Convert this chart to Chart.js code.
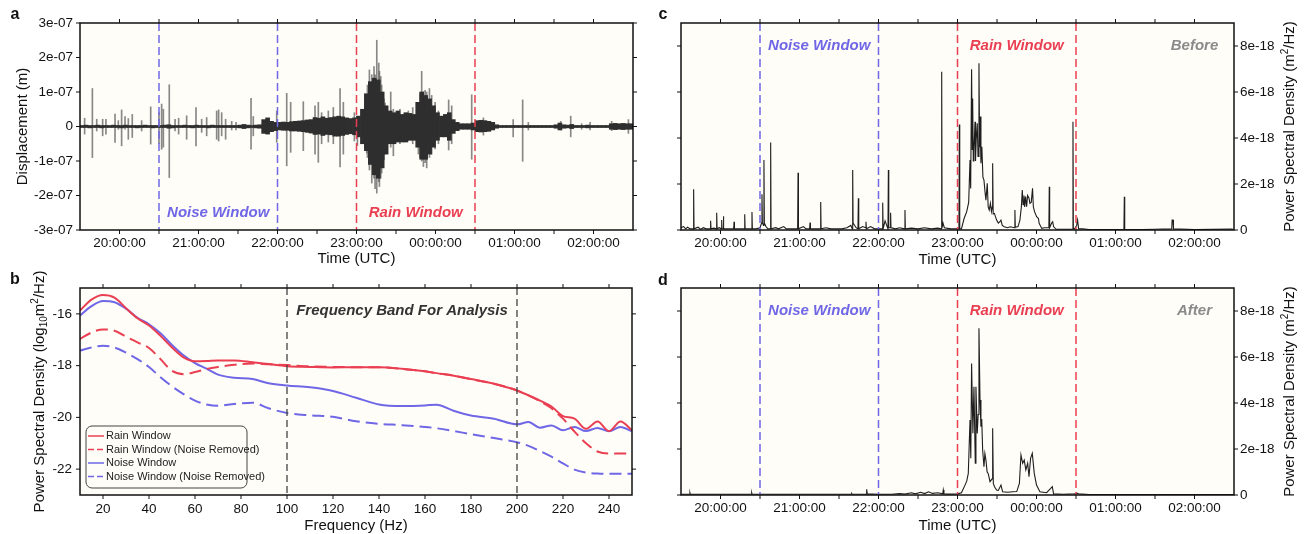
<!DOCTYPE html>
<html>
<head>
<meta charset="utf-8">
<script src="https://cdn.jsdelivr.net/npm/chart.js@4.4.1/dist/chart.umd.min.js"></script>
<style>
  body { margin: 0; background: #fff; width: 1309px; height: 534px; position: relative; overflow: hidden; }
  canvas { position: absolute; }
</style>
</head>
<body>
<canvas id="pa" style="left:0;top:0" width="655" height="270"></canvas>
<canvas id="pc" style="left:655px;top:0" width="654" height="270"></canvas>
<canvas id="pb" style="left:0;top:270px" width="655" height="264"></canvas>
<canvas id="pd" style="left:655px;top:270px" width="654" height="264"></canvas>
<script>
const BLUE = '#6f67e6', RED = '#ea3f52', GREY_TXT = '#8a8a8a', PLOT_BG = '#fffdf7', INK = '#111';
const FONT = "'Liberation Sans', Arial, Helvetica, sans-serif";

// time axis: minutes after 19:30 UTC
const hourMins = [30, 90, 150, 210, 270, 330, 390];
const hourLabels = ['20:00:00', '21:00:00', '22:00:00', '23:00:00', '00:00:00', '01:00:00', '02:00:00'];
const halfHourMins = [60, 120, 180, 240, 300, 360];
const noiseWin = [60, 150];
const rainWin = [210, 300];

// ---- panel a : displacement (units of 1e-07 m) ----
const aTickVals = [-3e-7, -2e-7, -1e-7, 0, 1e-7, 2e-7, 3e-7];
const aTickLabels = ['-3e-07', '-2e-07', '-1e-07', '0', '1e-07', '2e-07', '3e-07'];
const aBinWidth = 3; // minutes per envelope bin
const aUpper = [
  .03, .04, .03, .03, .04, .03, .03, .03, .04, .03,
  .03, .04, .03, .03, .03, .03, .04, .03, .03, .03,
  .03, .04, .05, .03, .03, .03, .04, .03, .03, .04,
  .03, .03, .03, .04, .03, .03, .03, .03, .03, .03,
  .04, .06, .04, .03, .04, .05, .2, .25, .15, .12,
  .12, .13, .12, .14, .15, .16, .17, .19, .2, .26,
  .24, .28, .24, .26, .28, .3, .28, .25, .23, .25,
  .3, .5, .95, 1.3, 1.4, 1.35, 1.0, .6, .45, .4,
  .45, .35, .4, .38, .35, .7, 1.0, .9, .8, .6,
  .4, .3, .35, .4, .2, .12, .08, .08, .08, .1,
  .17, .18, .17, .15, .12, .05, .03, .03, .03, .03,
  .03, .03, .03, .03, .03, .03, .03, .03, .03, .03,
  .05, .1, .05, .04, .06, .03, .03, .03, .04, .03,
  .03, .03, .03, .03, .08, .09, .08, .09, .08, .08
];
const aLower = [
  .03, .03, .04, .03, .03, .04, .03, .03, .03, .03,
  .04, .03, .03, .03, .04, .03, .03, .03, .04, .03,
  .03, .03, .05, .04, .03, .03, .03, .03, .04, .03,
  .03, .03, .04, .03, .03, .03, .03, .03, .03, .03,
  .04, .06, .04, .03, .04, .05, .2, .22, .15, .12,
  .1, .11, .11, .13, .13, .14, .15, .17, .19, .23,
  .22, .26, .23, .24, .28, .28, .26, .23, .21, .24,
  .3, .5, .7, 1.1, 1.4, 1.5, 1.2, .8, .5, .5,
  .45, .45, .45, .4, .4, .6, .95, .95, .8, .6,
  .4, .3, .3, .4, .2, .12, .08, .08, .08, .1,
  .15, .16, .15, .14, .1, .05, .03, .03, .03, .03,
  .03, .03, .03, .03, .03, .03, .03, .03, .03, .03,
  .05, .1, .05, .04, .06, .03, .03, .03, .04, .03,
  .03, .03, .03, .03, .08, .09, .08, .09, .08, .08
];
const aSpikeT = [3.5, 9.4, 12.7, 17.2, 19.7, 26.6, 29.1, 31.6, 34.2, 36.7,
  39.7, 46.8, 53.7, 60, 62, 63.3, 67.8, 72.2, 74.9, 81,
  88.1, 92.4, 96.2, 103.8, 105.3, 107.6, 110.6, 115.2, 118.5, 129.9,
  131.6, 149.4, 157, 160, 169.6, 178.5, 181, 183.5, 188.6, 192.4,
  197.5, 200, 208.4, 210.7, 216.5, 217.8, 218.3, 219.8, 221.6, 223.3,
  224.1, 225.4, 226.9, 227.4, 228.4, 229.1, 229.7, 230.9, 231.7, 236,
  238, 243, 249.4, 252.7, 257, 258.3, 259.5, 260.8, 262.1, 263.3,
  265.4, 267.1, 269.7, 272.2, 280, 282.3, 297.5, 306.4, 329, 336.2,
  340.5, 365.1, 372.7, 381, 387.4, 403.8, 416.5];
const aSpikeUp = [.24, 1.1, .21, .21, .21, .36, .17, .48, .29, .23,
  .35, .17, .57, .4, .65, .5, 1.21, .21, .24, .31,
  .55, .21, .26, .45, .48, .4, .21, .15, .12, .82,
  .29, .45, .96, .7, .72, .6, .7, .4, .45, .55,
  1.1, .7, .4, .3, .77, .9, 1.2, 1.64, 1.5, 1.74,
  1.5, 2.5, 1.84, 1.6, 1.45, 1.2, .97, .8, .68, 1.0,
  .5, .5, .45, .55, .7, .95, 1.6, 1.0, 1.05, 1.0,
  1.1, .9, .7, .45, .77, .6, .92, .25, .2, .77,
  .12, .15, .3, .08, .12, .15, .2];
const aSpikeDown = [.22, .9, .13, .27, .22, .46, .08, .56, .08, .37,
  .32, .13, .51, .5, .66, .6, 1.48, .13, .22, .37,
  .56, .17, .27, .37, .42, .27, .37, .1, .1, .66,
  .27, .46, 1.14, .75, .7, .8, 1.04, .5, .45, .5,
  1.17, .8, .42, .55, .6, .77, .9, 1.26, 1.64, 1.5,
  1.8, 1.93, 1.6, 1.74, 1.5, 1.35, 1.1, .97, .8, .6,
  .85, .5, .4, .5, .8, .9, 1.0, 1.16, 1.05, 1.2,
  .9, .8, .65, .5, .68, .5, .95, .25, .3, 1.01,
  .1, .1, .3, .08, .1, .12, .2];

// ---- panel b : PSD (log10 m^2/Hz) ----
const bFreq = [10, 15, 20, 25, 30, 35, 40, 45, 50, 55, 60, 65, 70, 77, 85, 92, 100, 110, 120, 130,
  140, 150, 160, 165, 172, 180, 190, 200, 205, 210, 215, 220, 225, 230, 235, 240, 245, 250];
const rainPsd = [-15.87, -15.45, -15.27, -15.37, -15.78, -16.17, -16.45, -16.85, -17.3, -17.68,
  -17.83, -17.82, -17.8, -17.8, -17.87, -17.94, -18.02, -18.05, -18.07, -18.06,
  -18.06, -18.12, -18.22, -18.29, -18.38, -18.52, -18.7, -18.96, -19.15, -19.35,
  -19.58, -19.95, -20.05, -20.44, -20.16, -20.53, -20.16, -20.5];
const rainClean = [-16.97, -16.72, -16.6, -16.65, -16.88, -17.1, -17.32, -17.75, -18.2, -18.33,
  -18.25, -18.13, -18.05, -17.97, -17.92, -17.95, -17.98, -18.03, -18.05, -18.06,
  -18.06, -18.13, -18.22, -18.29, -18.38, -18.52, -18.7, -18.96, -19.15, -19.38,
  -19.65, -20.05, -20.55, -21.0, -21.32, -21.4, -21.4, -21.4];
const noisePsd = [-16.06, -15.7, -15.5, -15.55, -15.8, -16.15, -16.4, -16.75, -17.2, -17.6,
  -17.9, -18.12, -18.35, -18.47, -18.52, -18.68, -18.77, -18.84, -18.98, -19.24,
  -19.5, -19.56, -19.54, -19.51, -19.73, -19.93, -20.05, -20.27, -20.18, -20.4,
  -20.31, -20.5, -20.37, -20.53, -20.41, -20.54, -20.37, -20.54];
const noiseClean = [-17.42, -17.3, -17.23, -17.3, -17.5, -17.75, -18.05, -18.45, -18.8, -19.1,
  -19.35, -19.5, -19.55, -19.48, -19.43, -19.65, -19.83, -19.92, -19.98, -20.15,
  -20.25, -20.3, -20.37, -20.42, -20.52, -20.65, -20.8, -20.96, -21.1, -21.3,
  -21.52, -21.78, -22.02, -22.13, -22.17, -22.18, -22.18, -22.18];
const bTickVals = [20, 40, 60, 80, 100, 120, 140, 160, 180, 200, 220, 240];
const bYTickVals = [-22, -20, -18, -16];
const bYTickLabels = ['-22', '-20', '-18', '-16'];

// ---- panels c, d : PSD time series (units of 1e-18 m^2/Hz) ----
const psdTickVals = [0, 2e-18, 4e-18, 6e-18, 8e-18];
const psdTickLabels = ['0', '2e-18', '4e-18', '6e-18', '8e-18'];
const cTime = [
  0, 2, 3.5, 5, 7, 9.3, 9.6, 9.9, 13, 15,
  17, 19, 22.3, 22.5, 22.8, 25, 26.8, 27.1, 27.4, 29,
  30.6, 30.9, 31.2, 31.9, 32.2, 32.5, 36, 40, 40.3, 40.6,
  44, 48.1, 48.4, 48.7, 51, 53.6, 53.9, 54.2, 57, 60,
  61.2, 61.5, 61.8, 62.7, 63, 63.3, 64.5, 66, 67.8, 68.1,
  68.4, 72, 74, 78, 80, 86, 88.6, 88.9, 89.2, 93,
  95, 97.7, 98, 98.3, 103, 105.8, 106.1, 106.4, 110, 114,
  118, 122, 126, 129, 130.1, 130.4, 130.7, 133, 134.4, 134.7,
  135, 138, 140.2, 140.5, 140.8, 144, 147, 150, 152.9, 153.2,
  153.5, 155, 157.2, 157.5, 157.8, 158.9, 159.2, 159.5, 163, 166,
  169.8, 170.1, 170.4, 175, 180, 185, 190, 195, 197.7, 198,
  198.3, 199, 200, 205, 209, 211.1, 211.4, 211.7, 213, 215,
  217, 218.5, 219.5, 220, 220.7, 221.2, 221.5, 222, 222.5, 223.3,
  223.7, 224.2, 225, 225.6, 226.3, 226.8, 227.1, 227.8, 228.5, 229.3,
  230.1, 231, 231.6, 232.6, 233.3, 234.1, 235, 235.8, 236.4, 236.7,
  237.1, 238, 239.7, 241, 242.2, 243, 244, 245.5, 248, 250,
  253.3, 253.6, 253.9, 256, 257.4, 258.5, 259.2, 259.8, 260.5, 261,
  261.7, 262.5, 263.2, 264.3, 265, 266, 267, 267.6, 268.5, 270.1,
  271.5, 272, 274, 276, 279.4, 279.7, 280, 281.5, 282.3, 283,
  285, 290, 295, 297.4, 297.7, 298, 299, 300.5, 301.2, 302,
  305, 310, 336.4, 336.7, 337, 350, 360, 372.7, 373, 373.7,
  374, 390, 418, 420
];
const cPsd = [
  .1, .15, .05, .12, .05, .05, 1.77, .05, .12, .03,
  .1, .05, .05, .4, .05, .08, .05, .75, .05, .1,
  .05, .43, .05, .05, .6, .05, .05, .05, .36, .05,
  .05, .05, .68, .05, .05, .05, .78, .05, .05, .1,
  .3, 1.55, .3, .2, 3.04, .3, .15, .05, .05, 3.8,
  .05, .1, .05, .15, .05, .05, .05, 2.49, .05, .15,
  .05, .05, .32, .05, .05, .05, 1.22, .05, .1, .05,
  .05, .05, .1, .2, .05, 2.61, .3, .1, .05, 1.38,
  .05, .15, .1, .36, .05, .15, .05, .05, .05, 1.19,
  .05, .4, .05, 2.61, .1, .1, .75, .1, .05, .1,
  .05, .87, .05, .08, .05, .1, .05, .08, .05, 6.88,
  .1, .3, .1, .05, .05, .05, 4.59, .05, .05, .5,
  .8, 1.2, 3.04, 1.8, 6.99, 3.5, 5.72, 3.0, 3.48, 4.71,
  3.0, 3.91, 4.64, 3.2, 7.25, 3.6, 4.93, 2.9, 3.62, 2.3,
  2.17, 1.6, 1.3, 2.03, 1.0, .87, 1.16, .8, 1.0, 2.9,
  .7, .72, .43, .3, .36, .43, .2, .14, .1, .14,
  .1, .87, .12, .15, .43, 1.0, 1.74, 1.1, 1.5, 1.0,
  1.45, 1.01, 1.5, 1.38, 1.16, 1.2, 1.81, 1.01, .8, .58,
  .5, .29, .07, .1, .1, 1.88, .1, .3, .36, .14,
  .03, .03, .03, .03, 4.71, .05, .05, .2, .43, .05,
  .05, .02, .02, 1.45, .02, .02, .03, .05, .43, .43,
  .05, .02, .04, .02
];
const dTime = [
  0, 6.5, 6.8, 7.1, 30, 53.5, 53.7, 54, 100, 129.5,
  129.7, 130, 140.7, 141, 141.5, 150, 160, 166, 170, 175,
  178, 182, 185, 188, 191, 195, 198.8, 199.2, 199.7, 204,
  210, 213, 215.7, 217, 218.2, 219.5, 220.1, 220.7, 221.7, 222.5,
  223.5, 224, 225, 225.7, 226.3, 227.1, 227.8, 228.4, 229.1, 230.1,
  230.8, 231.6, 232.5, 233.3, 234.7, 236.3, 236.7, 237.2, 238.1, 239.7,
  241, 243, 244.3, 248, 252, 255, 257, 258.2, 259.5, 260.7,
  261.9, 263.3, 264.3, 265.5, 266.8, 268.3, 270, 272.6, 277.7, 282,
  283, 290, 299, 300.5, 302, 310, 420
];
const dPsd = [
  .03, .03, .1, .03, .03, .03, .1, .03, .03, .03,
  .06, .03, .03, .25, .05, .03, .03, .06, .04, .1,
  .05, .12, .06, .14, .07, .1, .05, .22, .05, .04,
  .05, .1, .43, .6, .94, 3.26, 1.6, 5.72, 2.68, 4.71,
  1.38, 4.71, 2.68, 3.5, 7.25, 4.13, 2.97, 3.3, 1.96, 1.23,
  1.8, 1.52, 1.0, .94, .58, .7, 2.9, .5, .36, .22,
  .2, .43, .14, .12, .14, .15, .5, 1.74, 1.38, 1.52,
  1.09, 1.38, .8, 1.59, 1.81, .94, .43, .14, .1, .36,
  .05, .03, .05, .08, .05, .02, .02
];

Chart.defaults.font.family = FONT;
Chart.defaults.font.size = 13.5;
Chart.defaults.color = INK;
Chart.defaults.animation = false;
Chart.defaults.plugins.legend.display = false;
Chart.defaults.plugins.tooltip.enabled = false;

function timeAxis(h) {
  return {
    type: 'linear', min: 0, max: 420, offset: false,
    grid: {display: false, drawTicks: false}, border: {display: false},
    afterBuildTicks: s => { s.ticks = hourMins.map(v => ({value: v})); },
    ticks: {autoSkip: false, maxRotation: 0, minRotation: 0, padding: 5, callback: (v, i) => hourLabels[i]},
    afterFit: s => { s.height = h; }
  };
}
function valueAxis(pos, w, vals, labels, min, max, pad) {
  return {
    type: 'linear', position: pos, min: min, max: max,
    grid: {display: false, drawTicks: false}, border: {display: false},
    afterBuildTicks: s => { s.ticks = vals.map(v => ({value: v})); },
    ticks: {autoSkip: false, padding: pad, callback: (v, i) => labels[i]},
    afterFit: s => { s.width = w; }
  };
}

// rotated (bottom-to-top) text made of plain / sub / sup parts
function richV(ctx, parts, cx, cy, size) {
  ctx.save();
  ctx.translate(cx, cy);
  ctx.rotate(-Math.PI / 2);
  const fonts = parts.map(p => (p[1] ? Math.round(size * 0.68) : size) + 'px ' + FONT);
  let total = 0;
  const ws = parts.map((p, i) => { ctx.font = fonts[i]; const w = ctx.measureText(p[0]).width; total += w; return w; });
  let xx = -total / 2;
  ctx.textAlign = 'left';
  ctx.textBaseline = 'middle';
  parts.forEach((p, i) => {
    ctx.font = fonts[i];
    const dy = p[1] === 'sub' ? size * 0.3 : p[1] === 'sup' ? -size * 0.35 : 0;
    ctx.fillText(p[0], xx, dy);
    xx += ws[i];
  });
  ctx.restore();
}

function decor(cfg) {
  return {
    id: 'decor',
    beforeDraw(chart) {
      const {ctx, chartArea: a} = chart;
      ctx.save();
      ctx.fillStyle = PLOT_BG;
      ctx.fillRect(a.left, a.top, a.width, a.height);
      ctx.restore();
    },
    afterDatasetsDraw(chart) {
      const {ctx, chartArea: a, scales: {x, y}} = chart;
      ctx.save();
      (cfg.vlines || []).forEach(l => {
        const px = x.getPixelForValue(l.at);
        ctx.strokeStyle = l.color;
        ctx.lineWidth = l.width || 1.5;
        ctx.setLineDash(l.dash || [8, 4]);
        ctx.beginPath();
        ctx.moveTo(px, a.top);
        ctx.lineTo(px, a.bottom);
        ctx.stroke();
      });
      ctx.setLineDash([]);
      ctx.textAlign = 'center';
      ctx.textBaseline = 'middle';
      ctx.font = 'italic bold 15px ' + FONT;
      (cfg.notes || []).forEach(n => {
        ctx.fillStyle = n.color;
        ctx.fillText(n.text, x.getPixelForValue(n.x), y.getPixelForValue(n.y));
      });
      ctx.restore();
    },
    afterDraw(chart) {
      const {ctx, chartArea: a, scales: {x, y}} = chart;
      ctx.save();
      ctx.strokeStyle = INK;
      ctx.lineWidth = 1.5;
      ctx.strokeRect(a.left, a.top, a.width, a.height);
      ctx.lineWidth = 1;
      ctx.beginPath();
      cfg.xTicks.forEach(v => {
        const px = x.getPixelForValue(v);
        ctx.moveTo(px, a.bottom); ctx.lineTo(px, a.bottom + 4);
        ctx.moveTo(px, a.top); ctx.lineTo(px, a.top - 4);
      });
      cfg.yTicks.forEach(v => {
        const py = y.getPixelForValue(v);
        ctx.moveTo(a.left - 4, py); ctx.lineTo(a.left, py);
        ctx.moveTo(a.right, py); ctx.lineTo(a.right + 4, py);
      });
      ctx.stroke();

      ctx.fillStyle = INK;
      ctx.font = '15px ' + FONT;
      ctx.textAlign = 'center';
      ctx.textBaseline = 'middle';
      ctx.fillText(cfg.xTitle, (a.left + a.right) / 2, cfg.xTitleY);
      richV(ctx, cfg.yTitle, cfg.yTitleX, (a.top + a.bottom) / 2, 15);

      ctx.font = 'bold 16px ' + FONT;
      ctx.fillText(cfg.letter, cfg.letterXY[0], cfg.letterXY[1]);

      if (cfg.legend) {
        const L = cfg.legend;
        ctx.fillStyle = PLOT_BG;
        ctx.strokeStyle = '#444';
        ctx.lineWidth = 1;
        ctx.beginPath();
        ctx.roundRect(L.x, L.y, L.w, L.h, 6);
        ctx.fill();
        ctx.stroke();
        ctx.font = '11px ' + FONT;
        ctx.textAlign = 'left';
        chart.data.datasets.forEach((ds, i) => {
          const ry = L.y + 10 + i * 13.5;
          ctx.strokeStyle = ds.borderColor;
          ctx.lineWidth = 1.5;
          ctx.setLineDash(ds.borderDash ? [6, 3] : []);
          ctx.beginPath();
          ctx.moveTo(L.x + 2, ry);
          ctx.lineTo(L.x + 18, ry);
          ctx.stroke();
          ctx.setLineDash([]);
          ctx.fillStyle = '#222';
          ctx.fillText(ds.label, L.x + 20, ry);
        });
      }
      ctx.restore();
    }
  };
}

function winLines() {
  return [
    {at: noiseWin[0], color: BLUE}, {at: noiseWin[1], color: BLUE},
    {at: rainWin[0], color: RED}, {at: rainWin[1], color: RED}
  ];
}
const allTimeTicks = hourMins.concat(halfHourMins);
const psdTitle = [['Power Spectral Density (m', ''], ['2', 'sup'], ['/Hz)', '']];

// ---- a ----
new Chart(document.getElementById('pa'), {
  type: 'bar',
  data: {
    datasets: [
      {
        data: aUpper.map((u, i) => ({x: aBinWidth * i + aBinWidth / 2, y: [-aLower[i] * 1e-7, u * 1e-7]})),
        backgroundColor: '#2e2e2e', barThickness: 4, grouped: false, borderWidth: 0
      },
      {
        data: aSpikeT.map((t, i) => ({x: t, y: [-aSpikeDown[i] * 1e-7, aSpikeUp[i] * 1e-7]})),
        backgroundColor: 'rgba(85,85,85,0.7)', barThickness: 1, grouped: false, borderWidth: 0
      }
    ]
  },
  options: {
    responsive: false,
    layout: {padding: {top: 23, right: 22, left: 0, bottom: 0}},
    scales: {x: timeAxis(40), y: valueAxis('left', 80, aTickVals, aTickLabels, -3e-7, 3e-7, 7)}
  },
  plugins: [decor({
    letter: 'a', letterXY: [15, 15],
    xTicks: allTimeTicks, yTicks: aTickVals,
    xTitle: 'Time (UTC)', xTitleY: 259,
    yTitle: [['Displacement (m)', '']], yTitleX: 23,
    vlines: winLines(),
    notes: [
      {text: 'Noise Window', x: (noiseWin[0] + noiseWin[1]) / 2, y: -2.5e-7, color: BLUE},
      {text: 'Rain Window', x: (rainWin[0] + rainWin[1]) / 2, y: -2.5e-7, color: RED}
    ]
  })]
});

// ---- b ----
function psdSeries(label, vals, color, dashed) {
  return {
    label: label,
    data: bFreq.map((f, i) => ({x: f, y: vals[i]})),
    borderColor: color, borderWidth: 2, borderDash: dashed ? [12, 6] : undefined,
    pointRadius: 0, cubicInterpolationMode: 'monotone', fill: false
  };
}
new Chart(document.getElementById('pb'), {
  type: 'line',
  data: {
    datasets: [
      psdSeries('Rain Window', rainPsd, RED, false),
      psdSeries('Rain Window (Noise Removed)', rainClean, RED, true),
      psdSeries('Noise Window', noisePsd, BLUE, false),
      psdSeries('Noise Window (Noise Removed)', noiseClean, BLUE, true)
    ]
  },
  options: {
    responsive: false,
    layout: {padding: {top: 18, right: 23, left: 0, bottom: 0}},
    scales: {
      x: {
        type: 'linear', min: 10, max: 250,
        grid: {display: false, drawTicks: false}, border: {display: false},
        afterBuildTicks: s => { s.ticks = bTickVals.map(v => ({value: v})); },
        ticks: {autoSkip: false, maxRotation: 0, padding: 6},
        afterFit: s => { s.height = 39; }
      },
      y: valueAxis('left', 80, bYTickVals, bYTickLabels, -23, -15, 8)
    }
  },
  plugins: [decor({
    letter: 'b', letterXY: [15, 10],
    xTicks: bTickVals, yTicks: bYTickVals,
    xTitle: 'Frequency (Hz)', xTitleY: 256,
    yTitle: [['Power Spectral Density (log', ''], ['10', 'sub'], ['m', ''], ['2', 'sup'], ['/Hz)', '']], yTitleX: 40,
    vlines: [{at: 100, color: '#444', dash: [7, 4], width: 1.3}, {at: 200, color: '#444', dash: [7, 4], width: 1.3}],
    notes: [{text: 'Frequency Band For Analysis', x: 150, y: -15.9, color: '#333'}],
    legend: {x: 86, y: 156, w: 161, h: 62}
  })]
});

// ---- c, d ----
function psdTimeChart(id, times, vals, letter, letterY, padTop, xh, titleY, tag) {
  new Chart(document.getElementById(id), {
    type: 'line',
    data: {
      datasets: [{
        data: times.map((t, i) => ({x: t, y: vals[i] * 1e-18})),
        borderColor: '#1e1e1e', borderWidth: 1.1, pointRadius: 0, tension: 0, fill: false
      }]
    },
    options: {
      responsive: false,
      layout: {padding: {top: padTop, right: 0, left: 26, bottom: 0}},
      scales: {x: timeAxis(xh), y: valueAxis('right', 75, psdTickVals, psdTickLabels, 0, 9e-18, 6)}
    },
    plugins: [decor({
      letter: letter, letterXY: [8, letterY],
      xTicks: allTimeTicks, yTicks: psdTickVals,
      xTitle: 'Time (UTC)', xTitleY: titleY,
      yTitle: psdTitle, yTitleX: 635,
      vlines: winLines(),
      notes: [
        {text: 'Noise Window', x: (noiseWin[0] + noiseWin[1]) / 2, y: 8e-18, color: BLUE},
        {text: 'Rain Window', x: (rainWin[0] + rainWin[1]) / 2, y: 8e-18, color: RED},
        {text: tag, x: 390, y: 8e-18, color: GREY_TXT}
      ]
    })]
  });
}
psdTimeChart('pc', cTime, cPsd, 'c', 15, 23, 40, 260, 'Before');
psdTimeChart('pd', dTime, dPsd, 'd', 11, 18, 39, 256, 'After');
</script>
</body>
</html>
